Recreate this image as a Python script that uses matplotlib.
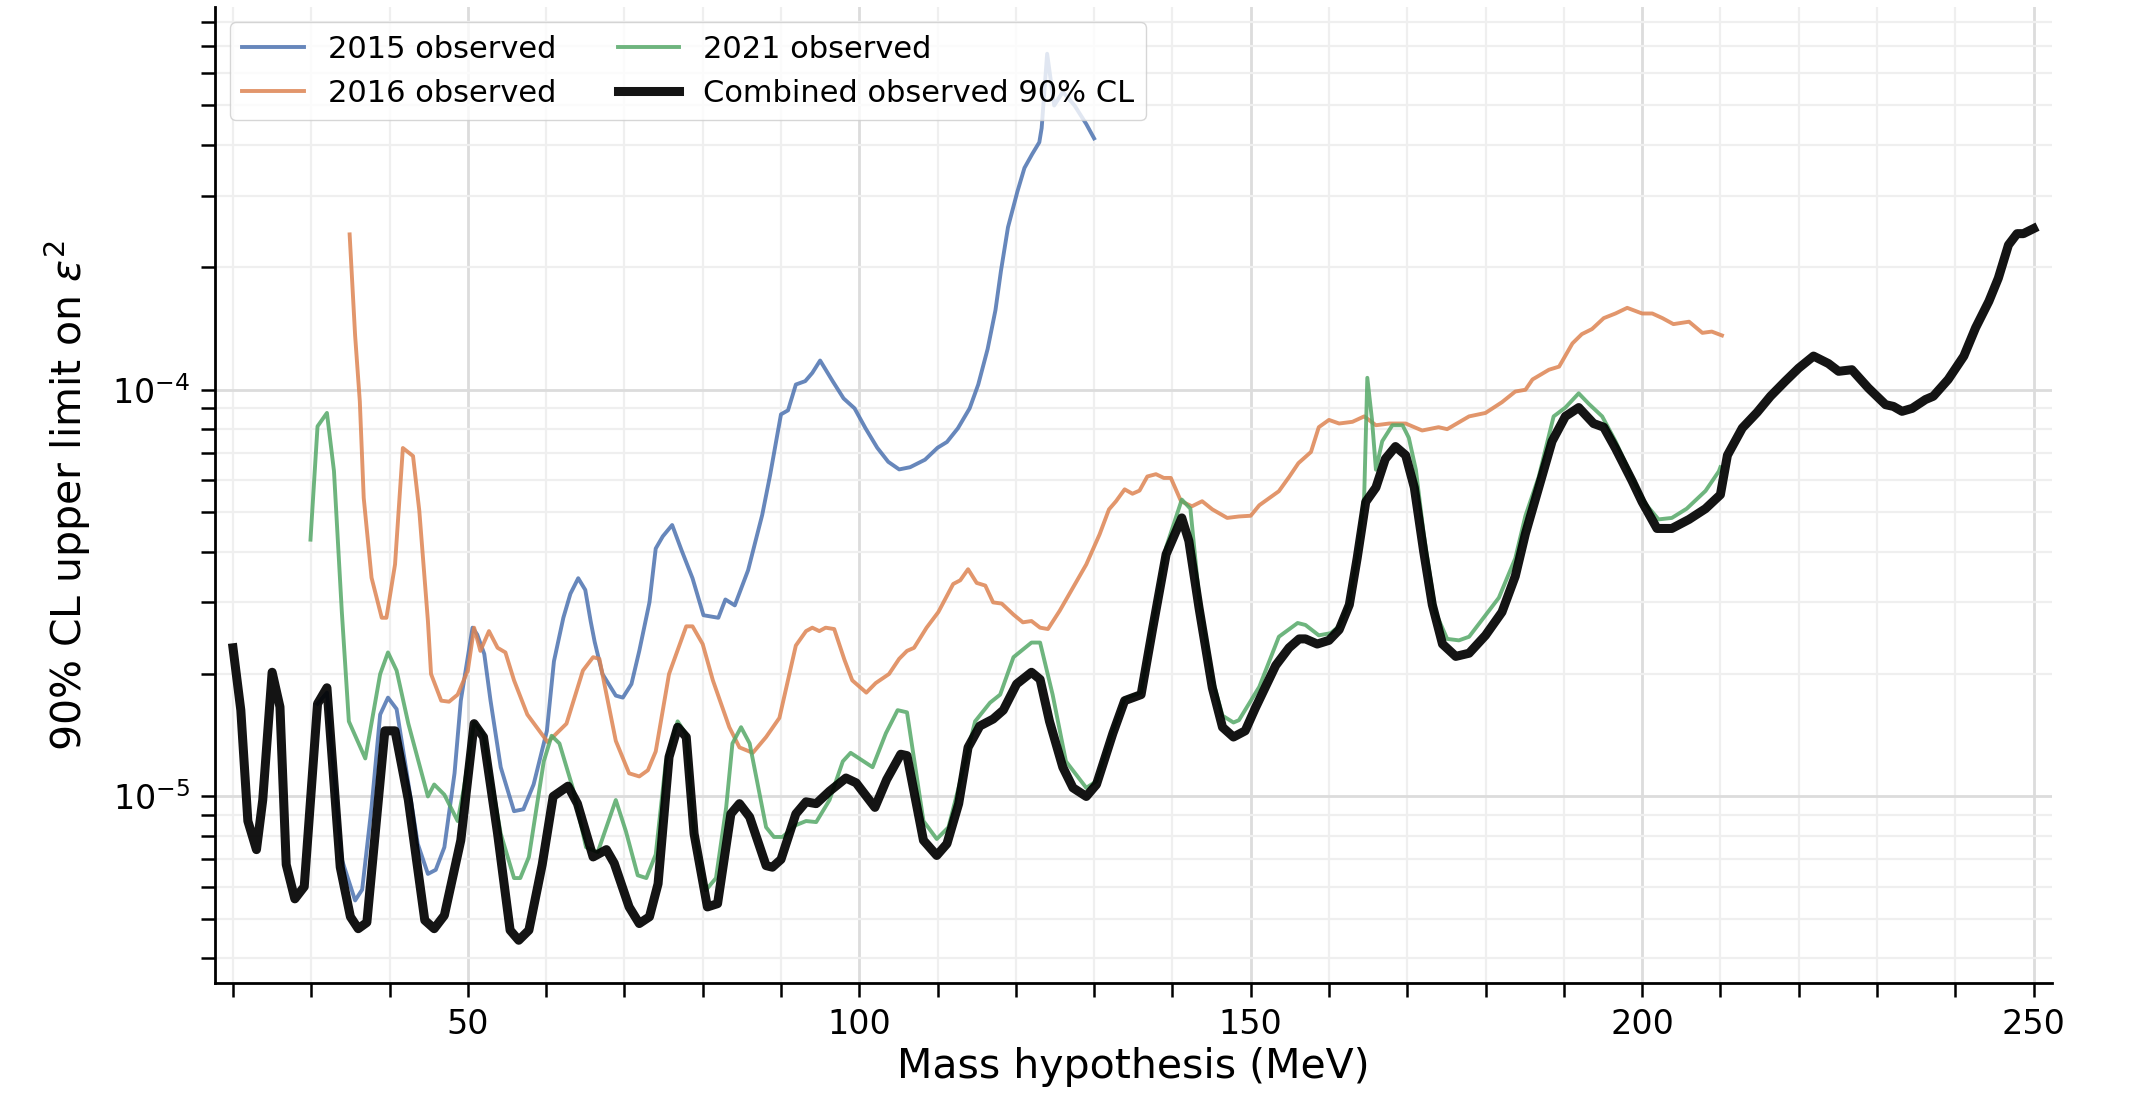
import numpy as np
import matplotlib
matplotlib.use("Agg")
from matplotlib import pyplot as plt
from matplotlib.ticker import LogLocator, MultipleLocator, NullFormatter

# ---- data (mass in MeV, limit on eps^2) ----
# 2015 observed
m_2015 = [30.8, 32, 33.9, 35.6, 36.5, 37.7, 38.8, 39.8, 40.9, 42.2, 43.6, 44.9, 45.9, 47, 48.3, 49.1,
          50.6, 51.2, 52.1, 52.9, 54.2, 55.9, 57.1, 58.4, 60.1, 61, 62.2, 63.1, 64.1, 65, 65.7, 66.2,
          67.2, 68.9, 69.8, 70.9, 71.9, 73.2, 74, 74.9, 76.1, 77.3, 78.7, 80.1, 82, 82.9, 84.1, 85.8,
          86.7, 87.6, 88.6, 89.5, 90, 90.9, 91.9, 93.1, 94, 95, 96.6, 98, 99.4, 100.8, 102.3, 103.7,
          105.1, 106.5, 108.4, 110, 111.2, 112.6, 114.1, 115.2, 116.4, 117.4, 118.1, 119, 120.2,
          121.1, 122.1, 123, 123.3, 124, 124.9, 126, 127.5, 129, 130]
v_2015 = [1.69, 1.8, 0.70, 0.555, 0.59, 0.94, 1.59, 1.75, 1.64, 1.14, 0.765, 0.645, 0.66, 0.75, 1.14, 1.72,
          2.6, 2.5, 2.24, 1.72, 1.18, 0.92, 0.93, 1.07, 1.45, 2.15, 2.75, 3.15, 3.44, 3.22, 2.69, 2.4,
          2.0, 1.77, 1.75, 1.89, 2.28, 3.0, 4.07, 4.36, 4.65, 4.03, 3.44, 2.79, 2.75, 3.05, 2.95, 3.6,
          4.21, 4.92, 6.15, 7.69, 8.7, 8.9, 10.3, 10.5, 11.0, 11.8, 10.5, 9.52, 9.0, 8.04, 7.2, 6.65,
          6.37, 6.45, 6.73, 7.2, 7.44, 8.04, 9.0, 10.3, 12.6, 15.7, 19.6, 25.1, 30.7,
          35.1, 38.0, 40.6, 44, 67, 50, 54, 50, 45, 41.5]

# 2016 observed
m_2016 = [34.9, 35.6, 36.2, 36.7, 37.7, 39, 39.6, 40.7, 41.7, 43, 43.8, 44.9, 45.3, 46.6, 47.6, 48.7,
          50, 50.8, 51.6, 52.7, 53.8, 54.8, 55.9, 57.6, 58.8, 60.2, 62.6, 64.7, 66, 66.8, 68.9, 70.6,
          71.9, 73, 74, 75.7, 77.9, 78.7, 80, 81.3, 83.4, 84.7, 86.4, 88.1, 89.8, 91.9, 93.2, 94,
          94.9, 95.7, 96.8, 98.1, 99.1, 100.9, 102.1, 103.8, 105.1, 106.1, 107, 108.6, 110.1, 112,
          112.9, 113.9, 115, 116.1, 117.1, 118.2, 119.7, 120.9, 122, 123.1, 124.1, 125.6, 127.3, 129,
          130.7, 131.9, 132.8, 133.9, 134.9, 135.8, 136.8, 137.9, 138.9, 139.8, 141.1, 142.5, 143.8,
          145.1, 147, 148.5, 150, 151.1, 153.6, 154.9, 156.1, 157.7, 158.7, 160, 161.3, 163, 164.5,
          166, 167.7, 169.8, 171.9, 174, 175.1, 177.9, 180, 182.1, 183.8, 185.1, 186, 188.1, 189.4,
          191.1, 192.3, 193.6, 195.1, 196.6, 198.1, 200, 201.3, 202.6, 204, 206, 207.7, 208.9, 210.2]
v_2016 = [24.1, 13.6, 9.37, 5.42, 3.45, 2.75, 2.75, 3.72, 7.19, 6.87, 5.04, 2.7, 2.0, 1.72, 1.71, 1.78,
          2.04, 2.6, 2.28, 2.55, 2.32, 2.26, 1.93, 1.59, 1.48, 1.36, 1.51, 2.04, 2.2, 2.18, 1.37, 1.14,
          1.12, 1.16, 1.29, 2.0, 2.62, 2.62, 2.37, 1.93, 1.48, 1.32, 1.28, 1.40, 1.56, 2.35, 2.55, 2.6,
          2.55, 2.6, 2.58, 2.17, 1.93, 1.8, 1.9, 2.0, 2.18, 2.28, 2.32, 2.6, 2.84, 3.33,
          3.4, 3.62, 3.35, 3.3, 3.0, 2.98, 2.8, 2.68, 2.7, 2.6, 2.58, 2.86, 3.26, 3.72,
          4.41, 5.08, 5.32, 5.69, 5.55, 5.65, 6.12, 6.2, 6.07, 6.07, 5.32, 5.17, 5.32,
          5.08, 4.84, 4.88, 4.9, 5.2, 5.63, 6.1, 6.6, 7.03, 8.09, 8.43, 8.26, 8.34, 8.6,
          8.18, 8.26, 8.26, 7.94, 8.09, 8.0, 8.6, 8.77, 9.32, 9.9, 10.0, 10.6, 11.2, 11.4,
          13.0, 13.7, 14.1, 15.0, 15.4, 15.9, 15.4, 15.4, 15.0, 14.5, 14.7, 13.8, 13.9, 13.6]

# 2021 observed
m_2021 = [29.9, 30.8, 32, 32.9, 33.9, 34.8, 36.9, 38.8, 39.8, 40.9, 42.4, 44.9, 45.7, 47, 48.7, 49.5,
          50.8, 52, 54.2, 55.9, 56.7, 57.8, 59.7, 60.7, 61.7, 63.4, 65.1, 66.6, 68.9, 70.2, 71.7, 72.8,
          74, 75.3, 76.8, 77.9, 78.9, 80.4, 81.7, 83, 83.8, 84.9, 86, 88.1, 89.1, 90.2, 91.9, 93.2,
          94.5, 96.2, 97.9, 98.9, 101.7, 103.4, 104.9, 106.1, 108.2, 109.9, 111.4, 112.9, 114.8, 116.7,
          118, 119.7, 122, 123.1, 124.7, 126.4, 129, 130.3, 132.4, 133.9, 136, 137.5, 139.2, 141.2,
          142.3, 143.4, 145.1, 146.4, 147.8, 148.5, 151.1, 153.6, 156, 157, 158.7, 160.2, 161.3, 162.6,
          163.6, 164.5, 164.9, 165.5, 166, 166.8, 168.1, 169.4, 170.2, 171.1, 172.1, 173.6, 175.1,
          176.6, 177.9, 180, 181.7, 183.8, 185.1, 186.8, 188.7, 190.2, 191.9, 193.2, 194.9, 196.6,
          198.7, 200.4, 202.1, 203.8, 205.7, 208.1, 209.8, 210]
v_2021 = [4.28, 8.13, 8.77, 6.31, 2.85, 1.53, 1.24, 2.0, 2.26, 2.04, 1.51, 1.0, 1.07, 1.01, 0.87, 1.05,
          1.52, 1.42, 0.81, 0.63, 0.63, 0.71, 1.22, 1.41, 1.35, 1.05, 0.75, 0.73, 0.98, 0.82, 0.64, 0.63,
          0.72, 1.22, 1.53, 1.42, 0.82, 0.588, 0.63, 0.94, 1.35, 1.48, 1.35, 0.84, 0.795, 0.795, 0.85, 0.87,
          0.865, 0.98, 1.22, 1.28, 1.18, 1.43, 1.63, 1.61, 0.87, 0.786, 0.84, 1.09, 1.53, 1.70,
          1.78, 2.2, 2.39, 2.39, 1.78, 1.22, 1.05, 1.09, 1.45, 1.74, 1.8, 2.65, 4.1, 5.37,
          5.1, 3.1, 1.95, 1.58, 1.52, 1.54, 1.86, 2.47, 2.67, 2.64, 2.49, 2.52, 2.62, 3.0,
          3.9, 5.47, 10.7, 8.43, 6.36, 7.47, 8.18, 8.18, 7.62, 6.36, 4.43, 2.84, 2.44,
          2.42, 2.47, 2.79, 3.08, 3.85, 4.9, 6.11, 8.6, 9.04, 9.8, 9.23, 8.6, 7.47,
          6.11, 5.25, 4.8, 4.84, 5.1, 5.64, 6.3, 6.45]

# combined observed 90% CL
m_comb = [20, 21, 21.9, 23, 23.8, 25, 26, 26.8, 27.9, 29.1, 30.8, 32, 33.7, 35, 36, 37.1, 39.4, 40.7,
          42.4, 44.5, 45.7, 47, 49.1, 50.8, 52, 53.8, 55.4, 56.5, 57.8, 59.5, 60.9, 62.8, 64, 66, 67.7,
          68.7, 70.6, 71.9, 73.2, 74.3, 75.7, 76.8, 77.9, 78.9, 80.6, 81.9, 83.6, 84.7, 86, 88.1, 88.9,
          90, 91.9, 93.2, 94.5, 96.2, 98.3, 99.6, 102, 103.5, 105.3, 106.1, 108.2, 109.9, 111.2, 112.7,
          113.9, 115.4, 117.1, 118.4, 120.1, 122, 123.1, 124.3, 126, 127.3, 129, 130.3, 132.4, 133.9,
          136, 137.5, 139.2, 141.2, 142.1, 143.4, 145.1, 146.4, 147.8, 149.3, 150.6, 153.2, 154.9,
          156.2, 157, 158.5, 160, 161.3, 162.6, 163.6, 164.7, 166, 167.2, 168.5, 169.8, 170.9, 172.1,
          173.2, 174.5, 176.2, 177.9, 180, 182.1, 183.8, 185.1, 186.8, 188.5, 190.2, 191.9, 193.8,
          195.1, 196.6, 198.7, 200, 201.9, 203.8, 206, 208.1, 210, 210.9, 212.8, 214.7, 216.4, 218.3,
          220, 221.9, 223.8, 225.1, 226.8, 228.9, 231.1, 232.1, 233.2, 234.5, 236.2, 237.2, 239.1,
          241.1, 242.6, 244.3, 245.5, 246.8, 247.9, 248.7, 250]
v_comb = [2.32, 1.63, 0.87, 0.74, 0.98, 2.02, 1.66, 0.68, 0.56, 0.60, 1.69, 1.85, 0.67, 0.506, 0.473, 0.49, 1.45, 1.45,
          0.98, 0.496, 0.473, 0.51, 0.78, 1.51, 1.40, 0.81, 0.469, 0.443, 0.469, 0.68, 1.0, 1.06, 0.96, 0.71, 0.74,
          0.685, 0.535, 0.487, 0.506, 0.61, 1.25, 1.48, 1.40, 0.81, 0.535, 0.545, 0.906, 0.96, 0.89, 0.676, 0.67,
          0.70, 0.906, 0.97, 0.96, 1.03, 1.11, 1.08, 0.94, 1.1, 1.27, 1.26, 0.78, 0.716, 0.765, 0.96,
          1.32, 1.49, 1.55, 1.63, 1.89, 2.02, 1.94, 1.53, 1.18, 1.05, 1.0, 1.07, 1.43, 1.72,
          1.78, 2.6, 3.94, 4.84, 4.25, 2.91, 1.85, 1.48, 1.40, 1.45, 1.65, 2.10, 2.32,
          2.44, 2.44, 2.37, 2.42, 2.57, 2.96, 3.85, 5.3, 5.75, 6.76, 7.25, 6.9, 5.75, 4.0,
          2.96, 2.37, 2.21, 2.25, 2.49, 2.84, 3.48, 4.43, 5.75, 7.47, 8.6, 9.04, 8.26,
          8.09, 7.18, 5.98, 5.3, 4.56, 4.56, 4.8, 5.1, 5.52, 6.9, 8.05, 8.8, 9.64, 10.5,
          11.3, 12.1, 11.6, 11.1, 11.2, 10.1, 9.19, 9.1, 8.85, 9.0, 9.46, 9.64, 10.6,
          12.1, 14.2, 16.5, 18.8, 22.7, 24.2, 24.2, 24.9]

labels = ["2015 observed", "2016 observed", "2021 observed", "Combined observed 90% CL"]
colors = ["#4c72b0", "#dd8452", "#55a868", "#000000"]

scale = 1e-5  # values above are in units of 1e-5

fig, ax = plt.subplots(figsize=(21.37, 11.0), dpi=100)
fig.subplots_adjust(left=0.1006, right=0.96, bottom=0.106, top=0.9936)

series = [(m_2015, v_2015), (m_2016, v_2016), (m_2021, v_2021)]
for (m, v), lab, col in zip(series, labels[:3], colors[:3]):
    ax.plot(m, np.array(v) * scale, color=col, lw=2.8, alpha=0.85, label=lab)
ax.plot(m_comb, np.array(v_comb) * scale, color=colors[3], lw=6.5, label=labels[3], alpha=0.92)

ax.set_yscale("log")
ax.set_xlim(17.7, 252.3)
ax.set_ylim(3.47e-6, 8.73e-4)

ax.xaxis.set_major_locator(MultipleLocator(50))
ax.xaxis.set_minor_locator(MultipleLocator(10))
ax.yaxis.set_major_locator(LogLocator(base=10))
ax.yaxis.set_minor_locator(LogLocator(base=10, subs=np.arange(2, 10)))
ax.yaxis.set_minor_formatter(NullFormatter())

ax.grid(which="major", color="#dcdcdc", lw=2.0)
ax.grid(which="minor", color="#efefef", lw=1.6)
ax.set_axisbelow(True)

for s in ["top", "right"]:
    ax.spines[s].set_visible(False)
for s in ["left", "bottom"]:
    ax.spines[s].set_linewidth(2.0)

ax.tick_params(which="both", direction="out", length=10, width=1.8, labelsize=24, pad=8)

ax.set_xlabel("Mass hypothesis (MeV)", fontsize=29.5)
ax.set_ylabel(r"90% CL upper limit on $\epsilon^2$", fontsize=29.5, labelpad=14)

ax.legend(loc="upper left", ncol=2, fontsize=22, framealpha=0.8)

fig.savefig("out.png", dpi=100)
